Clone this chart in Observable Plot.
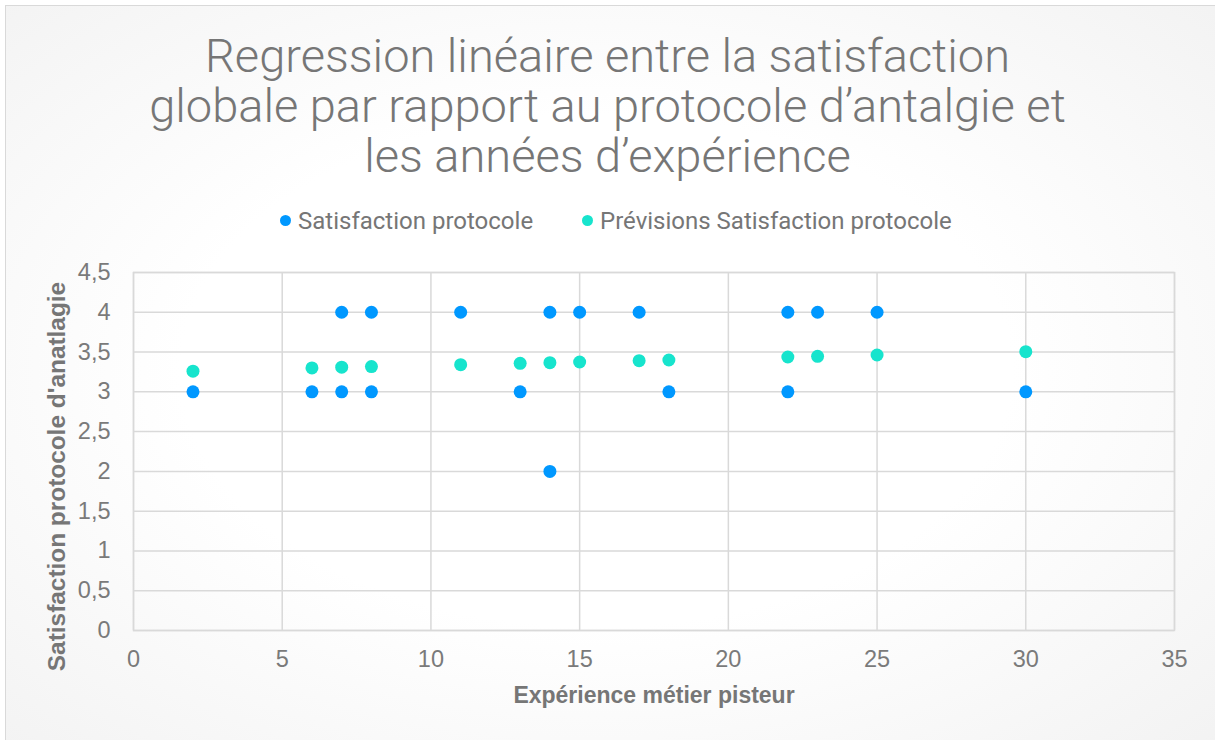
<!DOCTYPE html>
<html>
<head>
<meta charset="utf-8">
<script src="https://cdn.jsdelivr.net/npm/d3@7"></script>
<script src="https://cdn.jsdelivr.net/npm/@observablehq/plot@0.6"></script>
<style>
  html, body { margin: 0; padding: 0; width: 1215px; height: 740px; overflow: hidden; background: #fff;
    font-family: "Roboto", "Liberation Sans", sans-serif; }
  #card {
    position: absolute; left: 5px; top: 5px; width: 1230px; height: 760px;
    box-sizing: border-box; border-left: 1.5px solid #d9d9d9; border-top: 1.5px solid #d9d9d9;
    background: radial-gradient(ellipse 75% 75% at 48% 48%, #ffffff 45%, #f1f1f1 100%);
  }
  #title {
    position: absolute; left: 0; top: 31px; width: 1215px; text-align: center;
    font-size: 47px; line-height: 50px; color: #767676; font-weight: 300; white-space: nowrap;
  }
  .item { position: absolute; top: 207px; height: 28px; line-height: 28px; font-size: 24px; color: #767676;
    white-space: nowrap; display: flex; align-items: center; }
  .dot { display: inline-block; width: 11px; height: 11px; border-radius: 50%; margin-right: 7px; margin-top: -1px; }
  #chart { position: absolute; left: 0; top: 250px; }
  #chart svg { font-family: "Liberation Sans", "Roboto", sans-serif; }
</style>
</head>
<body>
<div id="card"></div>
<div id="title">Regression linéaire entre la satisfaction<br>globale par rapport au protocole d’antalgie et<br>les années d’expérience</div>
<div id="legend"></div>
<div id="chart"></div>
<script>
const titleText = "Regression linéaire entre la satisfaction globale par rapport au protocole d’antalgie et les années d’expérience";
const seriesNames = ["Satisfaction protocole", "Prévisions Satisfaction protocole"];
const seriesColors = ["#0098ff", "#17e4cd"];
const xLabel = "Expérience métier pisteur";
const yLabel = "Satisfaction protocole d'anatlagie";

// Observed values
const obsX = [2, 6, 7, 7, 8, 8, 11, 13, 14, 14, 15, 17, 18, 22, 22, 23, 25, 30];
const obsY = [3, 3, 3, 4, 3, 4, 4, 3, 4, 2, 4, 4, 3, 4, 3, 4, 4, 3];
// Predicted values
const predX = [2, 6, 7, 8, 11, 13, 14, 15, 17, 18, 22, 23, 25, 30];
const predY = [3.26, 3.30, 3.31, 3.317, 3.342, 3.358, 3.367, 3.375, 3.392, 3.40, 3.438, 3.446, 3.463, 3.505];

const xTicks = [0, 5, 10, 15, 20, 25, 30, 35];
const yTicks = [0, 0.5, 1, 1.5, 2, 2.5, 3, 3.5, 4, 4.5];

const obs = obsX.map((x, i) => ({x, y: obsY[i]}));
const pred = predX.map((x, i) => ({x, y: predY[i]}));

// legend
const legend = document.getElementById("legend");
const legendLeft = [280, 582];
seriesNames.forEach((n, i) => {
  const s = document.createElement("div");
  s.className = "item";
  s.style.left = legendLeft[i] + "px";
  s.innerHTML = `<span class="dot" style="background:${seriesColors[i]}"></span>${n}`;
  legend.appendChild(s);
});

const fmt = d => String(d).replace(".", ",");

const plot = Plot.plot({
  width: 1215,
  height: 490,
  marginLeft: 133,
  marginRight: 41,
  marginTop: 22,
  marginBottom: 110,
  style: {background: "transparent", fontSize: "20px", color: "#767676"},
  x: {domain: [0, 35], ticks: xTicks, tickFormat: fmt},
  y: {domain: [0, 4.5], ticks: yTicks, tickFormat: fmt},
  marks: [
    Plot.gridX(xTicks, {stroke: "#d9d9d9", strokeOpacity: 1, strokeWidth: 1.5}),
    Plot.gridY(yTicks, {stroke: "#d9d9d9", strokeOpacity: 1, strokeWidth: 1.5}),
    Plot.frame({stroke: "#d9d9d9", strokeWidth: 1.5}),
    Plot.axisX(xTicks, {tickSize: 0, tickPadding: 20, tickFormat: fmt, fill: "#7a7a7a", label: null, fontSize: 23.5}),
    Plot.axisY(yTicks, {tickSize: 0, tickPadding: 23, tickFormat: fmt, fill: "#7a7a7a", label: null, fontSize: 23.5}),
    Plot.text([xLabel], {frameAnchor: "bottom", dy: 72, text: d => d, fill: "#767676", fontWeight: "bold", fontSize: 23, textAnchor: "middle"}),
    Plot.text([yLabel], {frameAnchor: "left", dx: -76, dy: 25, rotate: -90, text: d => d, fill: "#767676", fontWeight: "bold", fontSize: 24.4, textAnchor: "middle"}),
    Plot.dot(obs, {x: "x", y: "y", r: 6.5, fill: seriesColors[0]}),
    Plot.dot(pred, {x: "x", y: "y", r: 6.5, fill: seriesColors[1]})
  ]
});
document.getElementById("chart").appendChild(plot);
</script>
</body>
</html>
